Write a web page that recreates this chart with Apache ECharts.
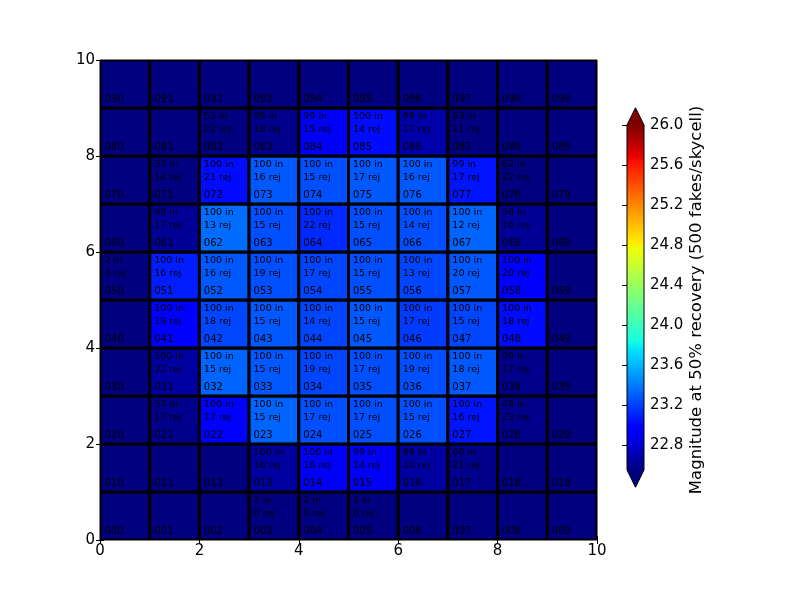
<!DOCTYPE html>
<html><head><meta charset="utf-8">
<script src="https://cdn.jsdelivr.net/npm/echarts@6/dist/echarts.min.js"></script>
<style>html,body{margin:0;padding:0;background:#fff}#c{width:800px;height:600px}</style>
</head><body><div id="c"></div>
<script>
// Magnitude at 50% recovery, rows from bottom (row 0) to top (row 9), columns 0..9
const U = 22.45; // below colour scale minimum (under colour)
const magRows = [
  [U, U, U, U, U, U, U, U, U, U],
  [U, U, U, 22.65, 22.91, 22.91, 22.65, 22.59, U, U],
  [U, 22.59, 22.94, 23.32, 23.25, 23.25, 23.25, 23.05, 22.59, U],
  [U, 22.65, 23.32, 23.28, 23.22, 23.25, 23.25, 23.28, 22.59, U],
  [U, 22.94, 23.22, 23.28, 23.22, 23.28, 23.18, 23.22, 23.02, U],
  [U, 23.08, 23.28, 23.25, 23.22, 23.25, 23.22, 23.28, 22.94, U],
  [U, 22.62, 23.35, 23.25, 23.12, 23.25, 23.25, 23.32, 22.62, U],
  [U, U, 23.02, 23.28, 23.25, 23.28, 23.28, 23.05, U, U],
  [U, U, U, 22.59, 22.91, 23.02, 22.68, U, U, U],
  [U, U, U, U, U, U, U, U, U, U]
];
const inRows = [
  [null, null, null, 2, 2, 2, null, null, null, null],
  [null, null, null, 100, 100, 99, 99, 60, null, null],
  [null, 57, 100, 100, 100, 100, 100, 100, 48, null],
  [null, 100, 100, 100, 100, 100, 100, 100, 99, null],
  [null, 100, 100, 100, 100, 100, 100, 100, 100, null],
  [2, 100, 100, 100, 100, 100, 100, 100, 100, null],
  [null, 98, 100, 100, 100, 100, 100, 100, 98, null],
  [null, 37, 100, 100, 100, 100, 100, 99, 62, null],
  [null, null, 53, 99, 99, 100, 99, 63, null, null],
  [null, null, null, null, null, null, null, null, null, null]
];
const rejRows = [
  [null, null, null, 0, 0, 0, null, null, null, null],
  [null, null, null, 16, 16, 14, 14, 21, null, null],
  [null, 17, 17, 15, 17, 17, 15, 16, 23, null],
  [null, 22, 15, 15, 19, 17, 19, 18, 17, null],
  [null, 19, 18, 15, 14, 15, 17, 15, 18, null],
  [0, 16, 16, 19, 17, 15, 13, 20, 20, null],
  [null, 17, 13, 15, 22, 15, 14, 12, 16, null],
  [null, 14, 21, 16, 15, 17, 16, 17, 22, null],
  [null, null, 22, 18, 15, 14, 17, 21, null, null],
  [null, null, null, null, null, null, null, null, null, null]
];
const vMin = 22.55, vMax = 26.0;
const cbLabel = 'Magnitude at 50% recovery (500 fakes/skycell)';

// jet colormap definition
const jetR = [[0,0],[0.35,0],[0.66,1],[0.89,1],[1,0.5]];
const jetG = [[0,0],[0.125,0],[0.375,1],[0.64,1],[0.91,0],[1,0]];
const jetB = [[0,0.5],[0.11,1],[0.34,1],[0.65,0],[1,0]];
function seg(p, f){
  for (let i = 0; i < p.length - 1; i++) {
    if (f <= p[i+1][0]) {
      const t = (f - p[i][0]) / (p[i+1][0] - p[i][0]);
      return p[i][1] + t * (p[i+1][1] - p[i][1]);
    }
  }
  return p[p.length-1][1];
}
function jet(f){
  const r = Math.round(seg(jetR,f)*255), g = Math.round(seg(jetG,f)*255), b = Math.round(seg(jetB,f)*255);
  return 'rgb(' + r + ',' + g + ',' + b + ')';
}
const NS = 200;
const jetColors = [];
const jetStops = [];
for (let i = 0; i <= NS; i++) { jetColors.push(jet(i/NS)); jetStops.push({offset: i/NS, color: jet(i/NS)}); }

const cells = [];
for (let r = 0; r < 10; r++) for (let c = 0; c < 10; c++) {
  cells.push({value: [c, r, magRows[r][c]], inN: inRows[r][c], rej: rejRows[r][c], id: '0' + r + c});
}

const FONT = '"DejaVu Sans", sans-serif';
const chart = echarts.init(document.getElementById('c'));
chart.setOption({
  animation: false,
  backgroundColor: '#fff',
  grid: [
    {left: 100, top: 60, width: 497, height: 480, show: true, borderColor: '#000', borderWidth: 1, backgroundColor: 'transparent'},
    {left: 627, top: 125, width: 17, height: 320}
  ],
  xAxis: [
    {type: 'value', gridIndex: 0, min: 0, max: 10, interval: 2, position: 'bottom',
     axisLine: {show: false}, splitLine: {show: false},
     axisTick: {inside: true, length: 4, lineStyle: {color: '#000'}},
     axisLabel: {color: '#000', fontSize: 15, fontFamily: FONT, margin: 4}},
    {type: 'value', gridIndex: 0, min: 0, max: 10, interval: 2, position: 'top',
     axisLine: {show: false}, splitLine: {show: false},
     axisTick: {inside: true, length: 4, lineStyle: {color: '#000'}}, axisLabel: {show: false}},
    {type: 'value', gridIndex: 1, min: 0, max: 1, show: false}
  ],
  yAxis: [
    {type: 'value', gridIndex: 0, min: 0, max: 10, interval: 2, position: 'left',
     axisLine: {show: false}, splitLine: {show: false},
     axisTick: {inside: true, length: 4, lineStyle: {color: '#000'}},
     axisLabel: {color: '#000', fontSize: 15, fontFamily: FONT, margin: 5}},
    {type: 'value', gridIndex: 0, min: 0, max: 10, interval: 2, position: 'right',
     axisLine: {show: false}, splitLine: {show: false},
     axisTick: {inside: true, length: 4, lineStyle: {color: '#000'}}, axisLabel: {show: false}},
    {type: 'value', gridIndex: 1, min: 22.8, max: 26.0, interval: 0.4, position: 'right',
     axisLine: {show: false}, splitLine: {show: false},
     axisTick: {inside: true, length: 5, lineStyle: {color: '#000'}},
     axisLabel: {color: '#000', fontSize: 15, fontFamily: FONT, margin: 6,
       formatter: v => v.toFixed(1)}}
  ],
  visualMap: {
    show: false, type: 'continuous', min: vMin, max: vMax, dimension: 2, seriesIndex: 0,
    inRange: {color: jetColors}, outOfRange: {color: jet(0)}
  },
  series: [
    {
      type: 'custom', coordinateSystem: 'cartesian2d', xAxisIndex: 0, yAxisIndex: 0, clip: true,
      data: cells, encode: {x: 0, y: 1},
      renderItem: function (params, api) {
        const c = api.value(0), r = api.value(1);
        const cell = cells[params.dataIndex];
        const p0 = api.coord([c, r + 1]), p1 = api.coord([c + 1, r]);
        const children = [{
          type: 'rect',
          shape: {x: p0[0], y: p0[1], width: p1[0] - p0[0], height: p1[1] - p0[1]},
          style: {fill: api.visual('color'), stroke: '#000', lineWidth: 3}
        }];
        const idp = api.coord([c + 0.09, r + 0.18]);
        children.push({type: 'text', style: {text: cell.id, x: idp[0], y: idp[1], fill: '#000',
          font: '10px ' + FONT, align: 'left', verticalAlign: 'middle'}});
        if (cell.inN !== null) {
          const ip = api.coord([c + 0.09, r + 0.83]);
          const rp = api.coord([c + 0.09, r + 0.545]);
          children.push({type: 'text', style: {text: cell.inN + ' in', x: ip[0], y: ip[1], fill: '#000',
            font: '9.5px ' + FONT, align: 'left', verticalAlign: 'middle'}});
          children.push({type: 'text', style: {text: cell.rej + ' rej', x: rp[0], y: rp[1], fill: '#000',
            font: '9.5px ' + FONT, align: 'left', verticalAlign: 'middle'}});
        }
        return {type: 'group', children: children};
      }
    },
    {
      type: 'custom', coordinateSystem: 'cartesian2d', xAxisIndex: 2, yAxisIndex: 2, clip: false,
      data: [[0, vMin, vMax]], encode: {x: 0, y: 1}, z: 1,
      renderItem: function (params, api) {
        const lo = api.coord([0, vMin]), hi = api.coord([1, vMax]);
        const L = lo[0], R = hi[0], B = lo[1], T = hi[1];
        const M = (L + R) / 2, ext = 0.05 * (B - T);
        return {type: 'group', children: [
          {type: 'rect', shape: {x: L, y: T, width: R - L, height: B - T},
           style: {fill: {type: 'linear', x: 0, y: 1, x2: 0, y2: 0, colorStops: jetStops}}},
          {type: 'polygon', shape: {points: [[L, T], [R, T], [M, T - ext]]}, style: {fill: jet(1)}},
          {type: 'polygon', shape: {points: [[L, B], [R, B], [M, B + ext]]}, style: {fill: jet(0)}},
          {type: 'polygon', shape: {points: [[L, B], [M, B + ext], [R, B], [R, T], [M, T - ext], [L, T]]},
           style: {fill: null, stroke: '#000', lineWidth: 1}}
        ]};
      }
    }
  ],
  graphic: [
    {type: 'text', x: 697, y: 300, rotation: Math.PI / 2,
     style: {text: cbLabel, fill: '#000', font: '16.5px ' + FONT, align: 'center', verticalAlign: 'middle'}}
  ]
});
</script>
</body></html>
